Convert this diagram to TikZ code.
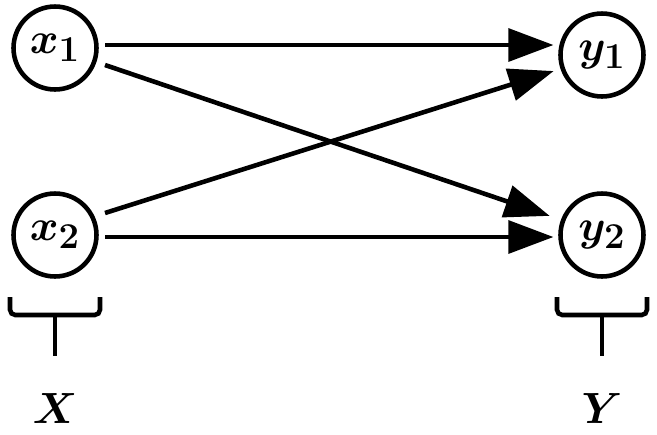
\documentclass[tikz,border=0pt]{standalone}
\usepackage{bm}
\usetikzlibrary{arrows.meta}
\tikzset{
    unit/.style={circle, draw, line width=2.6pt, minimum size=1.66cm, inner sep=0pt, font=\fontsize{28}{32}\selectfont},
    link/.style={line width=2.6pt, -{Triangle[length=9mm,width=6.5mm]}, shorten >=2pt},
    brace/.style={line width=2.6pt, rounded corners=3pt}
}
\begin{document}
\begin{tikzpicture}[x=0.02cm,y=-0.02cm]
    \useasboundingbox (0,0) rectangle (657,434);
    \node[unit] (x1) at (55,48) {$\bm{x}_{\mathbf 1}$};
    \node[unit] (x2) at (55,235) {$\bm{x}_{\mathbf 2}$};
    \node[unit] (y1) at (602,55) {$\bm{y}_{\mathbf 1}$};
    \node[unit] (y2) at (602,235) {$\bm{y}_{\mathbf 2}$};
    \coordinate (a1) at (105,45);  \coordinate (b1) at (557,45);
    \coordinate (a2) at (105,65);  \coordinate (b2) at (553,217);
    \coordinate (a3) at (105,213); \coordinate (b3) at (557,70);
    \coordinate (a4) at (105,237); \coordinate (b4) at (557,237);
    \draw[link] (a1) -- (b1);
    \draw[link] (a2) -- (b2);
    \draw[link] (a3) -- (b3);
    \draw[link] (a4) -- (b4);
    % groups
    \draw[brace] (10,297) |- (55,315) -| (100,297);
    \draw[line width=2.6pt] (55,315) -- (55,356);
    \draw[brace] (557,297) |- (602,315) -| (647,297);
    \draw[line width=2.6pt] (602,315) -- (602,356);
    \node[font=\fontsize{28}{32}\selectfont] (lx) at (55,408) {$\bm{X}$};
    \node[font=\fontsize{28}{32}\selectfont] (ly) at (602,408) {$\bm{Y}$};
\end{tikzpicture}
\end{document}
